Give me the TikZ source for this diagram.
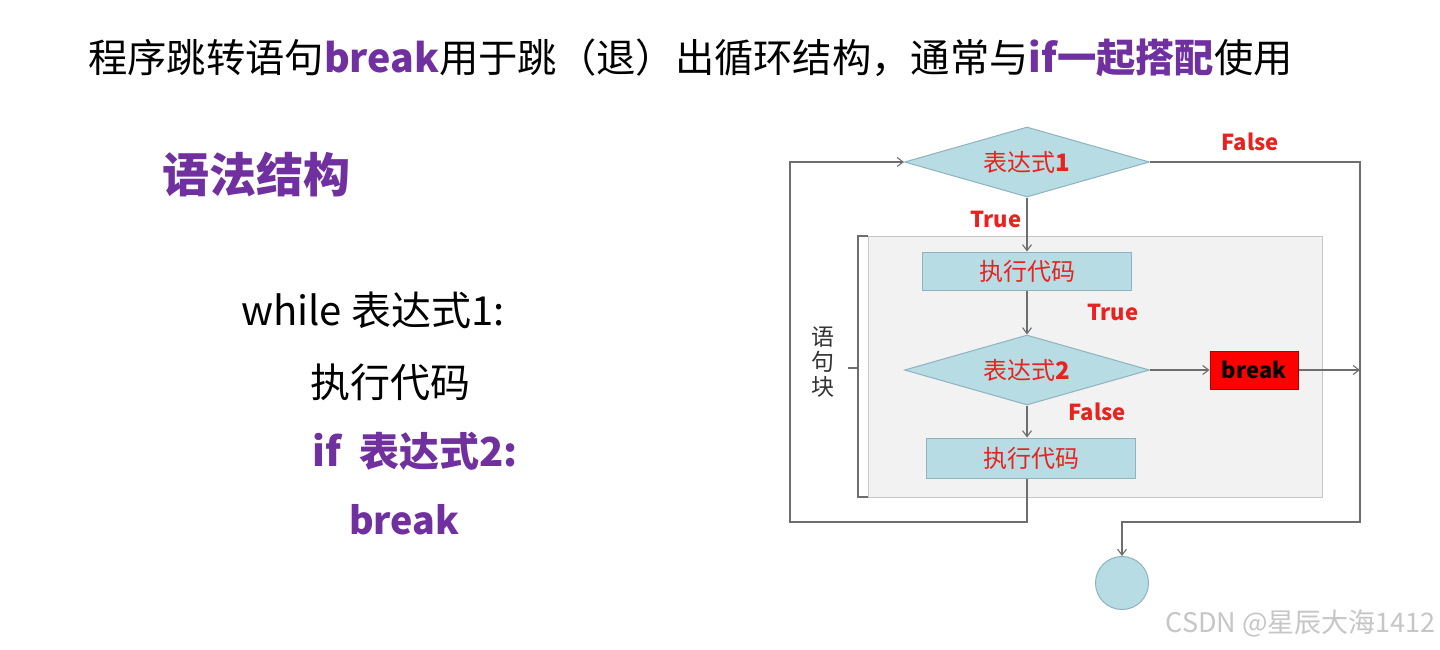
\documentclass[tikz,border=0pt]{standalone}
\usepackage{fontspec}
\setmainfont{Noto Sans CJK SC}
\usetikzlibrary{shapes.geometric,arrows.meta}
\definecolor{purp}{HTML}{7030A0}
\definecolor{lblue}{HTML}{B7DCE4}
\definecolor{lbord}{HTML}{8DB3BE}
\definecolor{fred}{HTML}{E8231F}
\definecolor{lineg}{HTML}{6E6E6E}
\definecolor{blockg}{HTML}{F2F2F2}
\begin{document}
\begin{tikzpicture}[x=1pt,y=-1pt,
  fs/.style={font=\fontsize{#1}{#1}\selectfont},
  dia/.style={diamond,draw=lbord,fill=lblue,line width=1pt,inner sep=0pt,aspect=3.5,minimum width=245pt,minimum height=70pt,text=fred,fs=24},
  codebox/.style={rectangle,draw=lbord,fill=lblue,line width=1pt,inner sep=0pt,minimum width=209pt,text=fred,fs=24},
  lbl/.style={text=fred,font=\fontsize{22}{22}\selectfont\bfseries,inner sep=0pt},
  arr/.style={draw=lineg,line width=1.1pt,-{Straight Barb[length=6pt,width=9pt]}},
  ln/.style={draw=lineg,line width=1.1pt}]
\useasboundingbox (0,0) rectangle (1440,649);
\fill[white] (0,0) rectangle (1440,649);
% title
\node[anchor=west,inner sep=0pt,fs=39.3] (title) at (88,58) {程序跳转语句\textcolor{purp}{\bfseries break}用于跳（退）出循环结构，通常与\textcolor{purp}{\bfseries if一起搭配}使用};
% left side
\node[anchor=west,inner sep=0pt,text=purp,font=\fontsize{47}{47}\selectfont\bfseries] (syn) at (162,175) {语法结构};
\node[anchor=west,inner sep=0pt,fs=40] (l1) at (241,310) {while 表达式1:};
\node[anchor=west,inner sep=0pt,fs=40] (l2) at (310,382) {执行代码};
\node[anchor=west,inner sep=0pt,text=purp,font=\fontsize{40}{40}\selectfont\bfseries] (l3) at (312,451) {if\ \ 表达式2:};
\node[anchor=west,inner sep=0pt,text=purp,font=\fontsize{37.6}{37.6}\selectfont\bfseries] (l4) at (349,520) {break};
% gray block and bracket
\draw[draw=gray!45,fill=blockg,line width=1pt] (868,236) rectangle (1322,497);
\draw[ln] (868,236) -- (858,236) -- (858,497) -- (868,497);
\draw[ln] (858,368) -- (848,368);
\node[fs=23,inner sep=0pt,align=center,text=black!80] (yjk) at (823,362) {语\\[2pt]句\\[2pt]块};
% flowchart nodes
\node[dia] (d1) at (1027,162) {表达式\textbf{1}};
\node[codebox,minimum height=38pt] (b1) at (1027,271) {执行代码};
\node[dia] (d2) at (1027,370) {表达式\textbf{2}};
\node[rectangle,draw=red!70!black,fill=red,line width=1pt,minimum width=88pt,minimum height=38pt,inner sep=0pt,font=\fontsize{22}{22}\selectfont\bfseries] (brk) at (1254,370) {break};
\node[codebox,minimum height=40pt] (b2) at (1031,458) {执行代码};
\node[circle,draw=lbord,fill=lblue,line width=1pt,minimum size=53pt,inner sep=0pt] (fin) at (1122,583) {};
\coordinate (lb) at (790,522);
\coordinate (rb) at (1360,522);
\coordinate (brkend) at (1360,370);
% connectors
\draw[arr] (d1.south) -- (b1.north);
\draw[arr] (b1.south) -- (d2.north);
\draw[arr] (d2.east) -- (brk.west);
\draw[arr] (brk.east) -- (brkend);
\draw[arr] (d2.south) -- ([xshift=-4pt]b2.north);
\draw[arr] ([xshift=-4pt]b2.south) |- (lb) |- (d1.west);
\draw[arr] (d1.east) -| (rb) -| (fin.north);
% labels
\node[lbl] (f1) at (1250,142) {False};
\node[lbl] (t1) at (996,219) {True};
\node[lbl] (t2) at (1113,312) {True};
\node[lbl] (f2) at (1097,412) {False};
% watermark
\node[anchor=east,inner sep=0pt,text=gray!45,fs=27] (wm) at (1436,623) {CSDN @星辰大海1412};
\end{tikzpicture}
\end{document}
